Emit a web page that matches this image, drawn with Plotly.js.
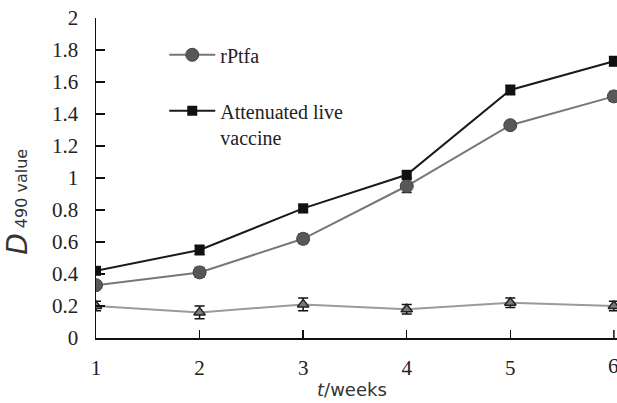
<!DOCTYPE html>
<html>
<head>
<meta charset="utf-8">
<script src="https://cdn.plot.ly/plotly-3.0.1.min.js"></script>
<style>html,body{margin:0;padding:0;background:#fff;}#chart{width:617px;height:403px;}</style>
</head>
<body>
<div id="chart"></div>
<script>
var weeks = [1, 2, 3, 4, 5, 6];
var rPtfa = [0.33, 0.41, 0.62, 0.95, 1.33, 1.51];
var rPtfaErr = [0.02, 0.03, 0.03, 0.04, 0.02, 0.03];
var attenuated = [0.42, 0.55, 0.81, 1.02, 1.55, 1.73];
var attenuatedErr = [0.02, 0.03, 0.025, 0.02, 0.03, 0.03];
var control = [0.20, 0.16, 0.21, 0.18, 0.22, 0.20];
var controlErr = [0.03, 0.04, 0.04, 0.03, 0.03, 0.03];
var xTickText = ['1', '2', '3', '4', '5', '6'];
var yTicks = [0, 0.2, 0.4, 0.6, 0.8, 1, 1.2, 1.4, 1.6, 1.8, 2];
var yTickText = ['0', '0.2', '0.4', '0.6', '0.8', '1', '1.2', '1.4', '1.6', '1.8', '2'];

var serif = 'Liberation Serif, Times New Roman, serif';
var sans = 'DejaVu Sans, Verdana, sans-serif';

var traces = [
  {
    x: weeks, y: control, type: 'scatter', mode: 'lines+markers', name: 'control',
    showlegend: false,
    line: {color: '#9a9a9a', width: 2},
    marker: {symbol: 'triangle-up', size: 10, color: '#7a7a7a', line: {color: '#222', width: 1.5}},
    error_y: {type: 'data', array: controlErr, visible: true, color: '#111', thickness: 1.5, width: 5}
  },
  {
    x: weeks, y: rPtfa, type: 'scatter', mode: 'lines+markers', name: 'rPtfa',
    legendgroup: 'a',
    line: {color: '#777', width: 2},
    marker: {symbol: 'circle', size: 13, color: '#585858', line: {color: '#444', width: 1}},
    error_y: {type: 'data', array: rPtfaErr, visible: true, color: '#222', thickness: 1.5, width: 5}
  },
  {
    x: weeks, y: attenuated, type: 'scatter', mode: 'lines+markers', name: 'Attenuated live<br>vaccine',
    legendgroup: 'b',
    line: {color: '#1a1a1a', width: 2},
    marker: {symbol: 'square', size: 10, color: '#111'},
    error_y: {type: 'data', array: attenuatedErr, visible: true, color: '#111', thickness: 1.5, width: 5}
  }
];

var layout = {
  width: 617, height: 403,
  margin: {l: 96, r: 0, t: 18, b: 65},
  paper_bgcolor: '#fff', plot_bgcolor: '#fff',
  showlegend: true,
  legend: {
    x: 0.131, y: 0.946, xanchor: 'left', yanchor: 'top',
    traceorder: 'grouped', tracegroupgap: 27, valign: 'top', itemwidth: 46,
    font: {family: serif, size: 20, color: '#222'},
    bgcolor: 'rgba(0,0,0,0)'
  },
  xaxis: {
    range: [1, 6.03], tickvals: weeks.slice(0, 5), ticktext: xTickText.slice(0, 5),
    ticks: 'inside', ticklen: 8, tickwidth: 1.5, tickcolor: '#111',
    showline: true, linecolor: '#111', linewidth: 1.5, showgrid: false, zeroline: false,
    tickfont: {family: serif, size: 21, color: '#222'},
    ticklabelstandoff: 10
  },
  yaxis: {
    range: [0, 2], tickvals: yTicks, ticktext: yTickText,
    ticks: 'inside', ticklen: 9, tickwidth: 1.5, tickcolor: '#111',
    showline: true, linecolor: '#111', linewidth: 1.5, showgrid: false, zeroline: false,
    tickfont: {family: serif, size: 21, color: '#222'},
    ticklabelstandoff: 12
  },
  shapes: [
    {type: 'line', xref: 'x', yref: 'paper', x0: weeks[5], x1: weeks[5], y0: 0, y1: 8 / 320,
     line: {color: '#111', width: 1.5}}
  ],
  annotations: [
    {
      xref: 'x', yref: 'paper', x: weeks[5], y: -0.087, xanchor: 'center', yanchor: 'middle',
      showarrow: false, text: xTickText[5],
      font: {family: serif, size: 21, color: '#222'}
    },
    {
      xref: 'paper', yref: 'paper', x: -0.152, y: 0.425, xanchor: 'center', yanchor: 'middle',
      textangle: -90, showarrow: false,
      text: '<i><span style="font-size:28px">D</span></i> 490 value',
      font: {family: sans, size: 16, color: '#333'}
    },
    {
      xref: 'paper', yref: 'paper', x: 0.492, y: -0.16, xanchor: 'center', yanchor: 'middle',
      showarrow: false,
      text: '<i>t</i>/weeks',
      font: {family: sans, size: 18, color: '#333'}
    }
  ]
};

Plotly.newPlot('chart', traces, layout, {displayModeBar: false, staticPlot: true});
</script>
</body>
</html>
